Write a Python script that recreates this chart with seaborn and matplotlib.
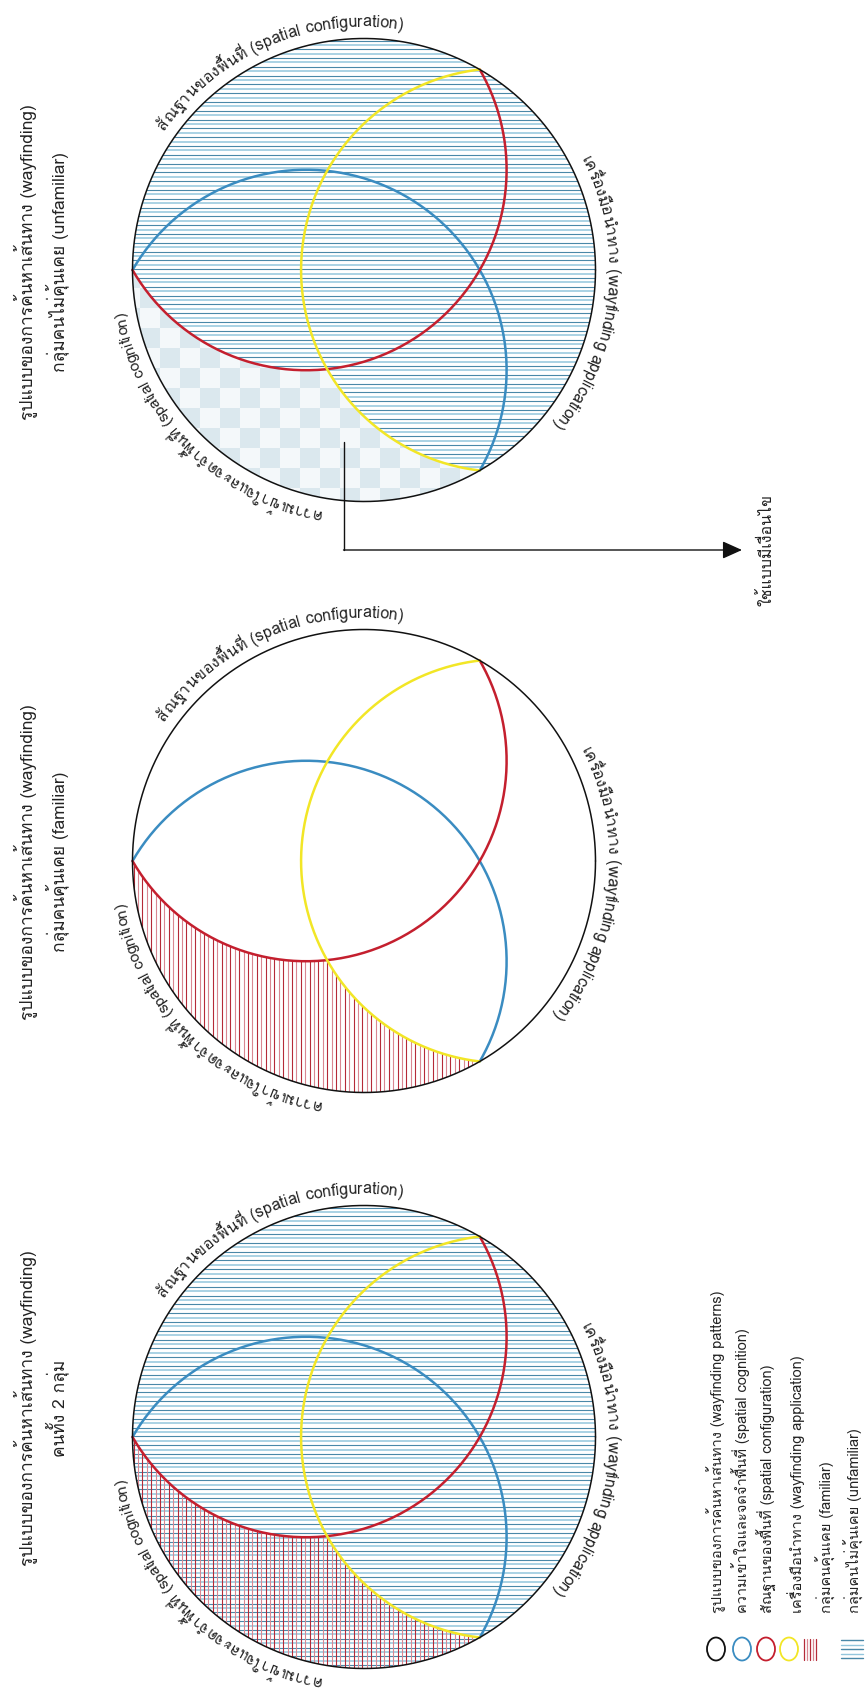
import numpy as np
import pandas as pd
import matplotlib
matplotlib.use("Agg")
import matplotlib.pyplot as plt
import seaborn as sns
from matplotlib import font_manager
from matplotlib.ft2font import FT2Font
from matplotlib.font_manager import FontProperties
from matplotlib.path import Path
from matplotlib.patches import PathPatch, Ellipse, Rectangle
from matplotlib.collections import LineCollection

# ---------------- data ----------------
panel_title = "รูปแบบของการค้นหาเส้นทาง (wayfinding)"
panel_groups = ["กลุ่มคนไม่คุ้นเคย (unfamiliar)", "กลุ่มคนคุ้นเคย (familiar)", "คนทั้ง 2 กลุ่ม"]
panel_modes = ["unfamiliar", "familiar", "both"]
label_configuration = "สัณฐานของพื้นที่ (spatial configuration)"
label_application = "เครื่องมือนำทาง (wayfinding application)"
label_cognition = "ความเข้าใจและจดจำพื้นที่ (spatial cognition)"
legend_labels = ["รูปแบบของการค้นหาเส้นทาง (wayfinding patterns)",
                 "ความเข้าใจและจดจำพื้นที่ (spatial cognition)",
                 "สัณฐานของพื้นที่ (spatial configuration)",
                 "เครื่องมือนำทาง (wayfinding application)",
                 "กลุ่มคนคุ้นเคย (familiar)",
                 "กลุ่มคนไม่คุ้นเคย (unfamiliar)"]
legend_kinds = ["circle", "circle", "circle", "circle", "vhatch", "hhatch"]
arrow_label = "ใช้แบบมีเงื่อนไข"

# ---------------- style ----------------
BLACK = "#111111"
BLUE = "#3a8cc1"
RED = "#c41f2e"
YELLOW = "#f2e626"
H_DARK = "#4a88a8"
H_LIGHT = "#93c6dc"
V_DARK = "#b52a38"
V_LIGHT = "#d98792"
TXT = "#222222"
legend_colors = [BLACK, BLUE, RED, YELLOW, V_DARK, H_DARK]

sns.set_theme(style="white")


def thai_ok(path):
    try:
        cm = FT2Font(path).get_charmap()
        return all(c in cm for c in (0x0E01, 0x0E49, 0x0E32))
    except Exception:
        return False


found = []
for fe in font_manager.fontManager.ttflist:
    if fe.name not in found and thai_ok(fe.fname):
        found.append(fe.name)
pref = [n for n in ["Loma", "Garuda", "Norasi", "Kinnari", "FreeSans", "FreeSerif"] if n in found]
THAI = pref[0] if pref else (found[0] if found else "DejaVu Sans")
FAMILY = [THAI, "DejaVu Sans"]
plt.rcParams["font.family"] = FAMILY

W, H = 867, 1697
fig = plt.figure(figsize=(W / 100, H / 100), dpi=100)
ax = fig.add_axes([0, 0, 1, 1])

R = 231.5
CX = 364
CENTERS_Y = [270, 861, 1437]
TITLE_Y = [262, 862, 1408]
YOFF = 0.6
S3 = np.sqrt(3)


def circ_pts(c, r, a0, a1, n=240):
    a = np.radians(np.linspace(a0, a1, n))
    return np.column_stack([c[0] + r * np.cos(a), c[1] + r * np.sin(a)])


def ang(c, p):
    return np.degrees(np.arctan2(p[1] - c[1], p[0] - c[0]))


def intersect(c1, r1, c2, r2):
    d = np.hypot(*(c2 - c1))
    a = (r1 ** 2 - r2 ** 2 + d ** 2) / (2 * d)
    h = np.sqrt(max(r1 ** 2 - a ** 2, 0))
    u = (c2 - c1) / d
    p = c1 + a * u
    perp = np.array([-u[1], u[0]])
    return p + h * perp, p - h * perp


def geometry(cx, cy):
    C = np.array([cx, cy], float)
    P1 = C + [-R, 0]
    P2 = C + [R / 2, -R * S3 / 2]
    P3 = C + [R / 2, R * S3 / 2]
    rs = R * S3 / 2
    cb = C + [-R / 4, R * S3 / 4]
    cr = C + [-R / 4, -R * S3 / 4]
    cyl = C + [YOFF * R, 0]
    ryl = np.hypot(*(P2 - cyl))
    i1, i2 = intersect(cr, rs, cyl, ryl)
    X = i1 if np.hypot(*(i1 - P2)) > np.hypot(*(i2 - P2)) else i2
    g = dict(C=C, P1=P1, P2=P2, P3=P3)
    g["big"] = circ_pts(C, R, 0, 360, 400)
    g["blue"] = circ_pts(cb, rs, -150, 30)
    g["red"] = circ_pts(cr, rs, 150, -30)
    a3 = ang(cyl, P3)
    a2 = ang(cyl, P2) % 360
    g["yellow"] = circ_pts(cyl, ryl, a3, a2)
    ar_x = ang(cr, X)
    ay_x = ang(cyl, X)
    red_part = circ_pts(cr, rs, 150, ar_x, 120)
    yel_part = circ_pts(cyl, ryl, ay_x, a3, 120)
    big_part = circ_pts(C, R, 60, 180, 160)
    g["regionA"] = np.vstack([red_part, yel_part, big_part])
    rest_big = circ_pts(C, R, 180, 420, 300)
    g["regionB"] = np.vstack([rest_big, yel_part[::-1], red_part[::-1]])
    return g


def clip_patch(poly):
    return PathPatch(Path(np.vstack([poly, poly[:1]]), closed=True), transform=ax.transData,
                     facecolor="none", edgecolor="none")


def hlines(g, poly, z=1):
    cx, cy = g["C"]
    ys = np.arange(cy - R + 2, cy + R, 4.4)
    segs = [[(cx - R - 2, y), (cx + R + 2, y)] for y in ys]
    cols = [H_DARK if i % 2 == 0 else H_LIGHT for i in range(len(ys))]
    lws = [0.8 if i % 2 == 0 else 1.1 for i in range(len(ys))]
    lc = LineCollection(segs, colors=cols, linewidths=lws, zorder=z)
    ax.add_collection(lc)
    lc.set_clip_path(clip_patch(poly))


def vlines(g, poly, z=2):
    cx, cy = g["C"]
    xs = np.arange(cx - R + 1, cx + R, 4.4)
    segs = [[(x, cy - R - 2), (x, cy + R + 2)] for x in xs]
    cols = [V_DARK if i % 2 == 0 else V_LIGHT for i in range(len(xs))]
    lc = LineCollection(segs, colors=cols, linewidths=0.8, zorder=z)
    ax.add_collection(lc)
    lc.set_clip_path(clip_patch(poly))


def checker(g, poly, z=1):
    cx, cy = g["C"]
    cp = clip_patch(poly)
    x0 = cx - 4 - 20 * 12
    y0 = cy - 2 - 20 * 12
    for i in range(25):
        for j in range(25):
            col = "#dbe8ee" if (i + j) % 2 == 0 else "#f4f8fa"
            rect = Rectangle((x0 + 20 * i, y0 + 20 * j), 20, 20, facecolor=col,
                             edgecolor="none", zorder=z)
            ax.add_patch(rect)
            rect.set_clip_path(cp)


def draw_curve(pts, color, lw, z):
    df = pd.DataFrame({"x": pts[:, 0], "y": pts[:, 1]})
    sns.lineplot(data=df, x="x", y="y", sort=False, estimator=None, color=color,
                 linewidth=lw, ax=ax, zorder=z)


# zero-advance Thai marks, plus sara am which draws over the previous consonant
JOIN = set(chr(c) for c in [0x0E31, 0x0E33] + list(range(0x0E34, 0x0E3B)) + list(range(0x0E47, 0x0E4F)))
FT_MAIN = FT2Font(font_manager.findfont(FontProperties(family=THAI)))
FT_FALL = FT2Font(font_manager.findfont(FontProperties(family="DejaVu Sans")))
CM_MAIN = FT_MAIN.get_charmap()


def advances(text, fs):
    FT_MAIN.set_size(fs, 100)
    FT_FALL.set_size(fs, 100)
    out = []
    for ch in text:
        f = FT_MAIN if ord(ch) in CM_MAIN else FT_FALL
        gl = f.load_char(ord(ch))
        out.append(gl.linearHoriAdvance / 65536)
    return out


def curved_text(text, C, r, theta_mid, fs):
    fp = FontProperties(family=FAMILY, size=fs)
    clusters, widths = [], []
    for ch, adv in zip(text, advances(text, fs)):
        if clusters and ch in JOIN:
            clusters[-1] += ch
            widths[-1] += adv
        else:
            clusters.append(ch)
            widths.append(adv)
    total = sum(widths)
    s = 0.0
    for c, w in zip(clusters, widths):
        sc = s + w / 2
        th = np.radians(theta_mid) + (total / 2 - sc) / r
        x = C[0] + r * np.cos(th)
        y = C[1] - r * np.sin(th)
        if c.strip():
            ax.text(x, y, c, rotation=np.degrees(th) - 90, rotation_mode="anchor",
                    ha="center", va="baseline", fontproperties=fp, color=TXT, zorder=6)
        s += w


for k, (cy, ty, mode, grp) in enumerate(zip(CENTERS_Y, TITLE_Y, panel_modes, panel_groups)):
    g = geometry(CX, cy)
    if mode == "unfamiliar":
        hlines(g, g["regionB"])
        checker(g, g["regionA"])
    elif mode == "familiar":
        vlines(g, g["regionA"])
    else:
        hlines(g, g["big"])
        vlines(g, g["regionA"])
    draw_curve(g["big"], BLACK, 1.1, 5)
    draw_curve(g["blue"], BLUE, 1.8, 4)
    draw_curve(g["red"], RED, 1.8, 4)
    draw_curve(g["yellow"], YELLOW, 1.8, 4)
    rl = R + 12
    curved_text(label_configuration, g["C"], rl, 113, 11.5)
    curved_text(label_application, g["C"], rl, -6, 11.5)
    curved_text(label_cognition, g["C"], rl, 225, 11.0)
    ax.text(25, ty, panel_title, rotation=90, ha="center", va="center", fontsize=12.5, color=TXT)
    ax.text(57, ty, grp, rotation=90, ha="center", va="center", fontsize=12.5, color=TXT)

# arrow from the conditional region
ax.plot([344, 344], [442, 550], color=BLACK, lw=1.0, zorder=7)
ax.annotate("", xy=(742, 550), xytext=(343.5, 550),
            arrowprops=dict(arrowstyle="-|>,head_length=1.0,head_width=0.45", color=BLACK, lw=1.0,
                            shrinkA=0, shrinkB=0), zorder=7)
ax.text(767, 550, arrow_label, rotation=90, ha="center", va="center", fontsize=11.5, color=TXT)

# legend
sym_x = [716, 742, 766, 789, 810, 852]
lab_x = [716, 741, 767, 796, 826, 854]
for lab, kind, col, sx, lx in zip(legend_labels, legend_kinds, legend_colors, sym_x, lab_x):
    if kind == "circle":
        ax.add_patch(Ellipse((sx, 1649), 18, 23, facecolor="none", edgecolor=col, lw=1.3))
    elif kind == "vhatch":
        for i, dx in enumerate(np.arange(-6, 7, 3)):
            ax.plot([sx + dx, sx + dx], [1639, 1660], color=V_DARK if i % 2 == 0 else V_LIGHT, lw=0.9)
    else:
        for i, dy in enumerate(np.arange(-9, 10, 4.5)):
            ax.plot([sx - 11, sx + 11], [1649 + dy, 1649 + dy], color=H_DARK if i % 2 == 0 else H_LIGHT, lw=1.0)
    ax.text(lx, 1613, lab, rotation=90, rotation_mode="anchor", ha="left", va="center",
            fontsize=10.5, color=TXT)

ax.set_xlim(0, W)
ax.set_ylim(H, 0)
ax.set_aspect("equal")
ax.axis("off")
fig.savefig("out.png", dpi=100, facecolor="white")
